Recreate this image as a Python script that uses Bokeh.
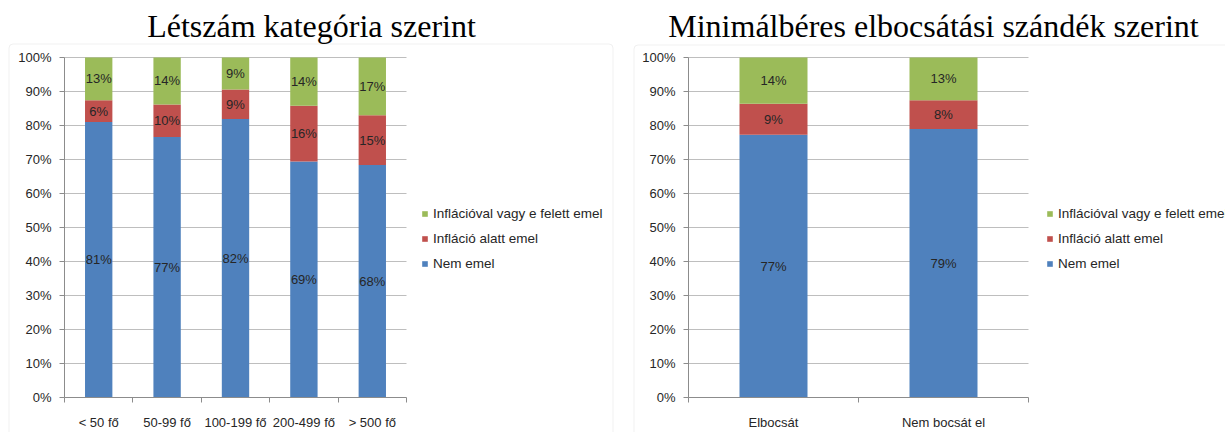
from bokeh.plotting import figure
from bokeh.models import (ColumnDataSource, Range1d, FixedTicker, PrintfTickFormatter,
                          Legend, LegendItem, Label, BoxAnnotation)
from bokeh.layouts import row
from bokeh.core.properties import value
from bokeh.embed import file_html
from bokeh.resources import INLINE

# ---------------- data ----------------
title_a = "Létszám kategória szerint"
cats_a = ["< 50 fő", "50-99 fő", "100-199 fő", "200-499 fő", "> 500 fő"]
nem_a = [81.0, 76.6, 81.9, 69.4, 68.4]
alatt_a = [6.4, 9.6, 8.7, 16.4, 14.6]
felett_a = [12.6, 13.8, 9.4, 14.2, 17.0]

title_b = "Minimálbéres elbocsátási szándék szerint"
cats_b = ["Elbocsát", "Nem bocsát el"]
nem_b = [77.3, 79.0]
alatt_b = [9.1, 8.4]
felett_b = [13.6, 12.6]

series_names = ["Nem emel", "Infláció alatt emel", "Inflációval vagy e felett emel"]
series_colors = ["#4F81BD", "#C0504D", "#9BBB59"]
y_ticks = list(range(0, 101, 10))

FONT = "Liberation Sans"
FS = "13px"
TXT = "#262626"
AXC = "#8C8C8C"
H = 432
PLOT_TOP, PLOT_BOTTOM = 57, 397   # pixel rows of 100% and 0%


def make_chart(title, cats, nem, alatt, felett, width, plot_left, plot_right,
               legend_x, title_x, box):
    n = len(cats)
    xs = [i + 0.5 for i in range(n)]
    kx = (plot_right - plot_left) / n
    ky = (PLOT_BOTTOM - PLOT_TOP) / 100.0
    x0 = -plot_left / kx
    y0 = -(H - PLOT_BOTTOM) / ky
    p = figure(width=width, height=H,
               x_range=Range1d(x0, x0 + width / kx),
               y_range=Range1d(y0, y0 + H / ky),
               output_backend="svg", toolbar_location=None, title=None,
               min_border=0)
    p.outline_line_color = None
    p.background_fill_color = "white"
    p.border_fill_color = "white"
    p.grid.visible = False

    # horizontal gridlines
    gy = y_ticks[1:]
    p.segment(x0=[0] * len(gy), x1=[n] * len(gy), y0=gy, y1=gy,
              line_color="#BEBEBE", line_width=1)

    src = ColumnDataSource(dict(x=xs, nem=nem, alatt=alatt, felett=felett))
    rs = p.vbar_stack(["nem", "alatt", "felett"], x="x", width=0.4, source=src,
                      fill_color=series_colors, line_color=None)

    # data labels
    lx, ly, lt = [], [], []
    for i in range(n):
        base = 0.0
        for vals in (nem, alatt, felett):
            v = vals[i]
            lx.append(xs[i])
            ly.append(base + v / 2)
            lt.append(f"{v:.0f}%")
            base += v
    p.text(x=lx, y=ly, text=lt, text_align="center", text_baseline="middle",
           text_font=value(FONT), text_font_size=FS, text_color=TXT)

    # y axis
    yax = p.yaxis[0]
    yax.fixed_location = 0
    yax.bounds = (0, 100)
    yax.ticker = FixedTicker(ticks=y_ticks)
    yax.formatter = PrintfTickFormatter(format="%d%%")
    yax.axis_line_color = AXC
    yax.major_tick_line_color = AXC
    yax.major_tick_out = 5
    yax.major_tick_in = 0
    yax.minor_tick_line_color = None
    yax.major_label_standoff = 8
    yax.major_label_text_font = FONT
    yax.major_label_text_font_size = FS
    yax.major_label_text_color = TXT

    # x axis
    xax = p.xaxis[0]
    xax.fixed_location = 0
    xax.bounds = (0, n)
    xax.ticker = FixedTicker(ticks=xs, minor_ticks=list(range(n + 1)))
    xax.major_label_overrides = {x: c for x, c in zip(xs, cats)}
    xax.axis_line_color = AXC
    xax.major_tick_out = 0
    xax.major_tick_in = 0
    xax.minor_tick_line_color = AXC
    xax.minor_tick_out = 5
    xax.minor_tick_in = 0
    xax.major_label_standoff = 12
    xax.major_label_text_font = FONT
    xax.major_label_text_font_size = FS
    xax.major_label_text_color = TXT

    # legend
    items = [LegendItem(label=series_names[k], renderers=[rs[k]]) for k in (2, 1, 0)]
    leg = Legend(items=items, location=(legend_x, H - 271), margin=0, padding=0,
                 border_line_color=None, background_fill_alpha=0,
                 glyph_width=7, glyph_height=7, label_height=14, label_standoff=5,
                 spacing=10, label_text_font=FONT, label_text_font_size="13.5px",
                 label_text_color=TXT)
    p.add_layout(leg)

    # chart frame
    p.add_layout(BoxAnnotation(left=box[0], right=box[1], top=H - box[2], bottom=-20,
                               left_units="screen", right_units="screen",
                               top_units="screen", bottom_units="screen",
                               fill_alpha=0, line_color="#CCCCCC", line_width=1,
                               border_radius=4))

    # title
    p.add_layout(Label(x=title_x, y=H - 25, x_units="screen", y_units="screen", text=title,
                       text_font="Liberation Serif", text_font_size="32px",
                       text_align="center", text_baseline="alphabetic",
                       text_color="black"))
    return p


pa = make_chart(title_a, cats_a, nem_a, alatt_a, felett_a, width=623,
                plot_left=64, plot_right=406, legend_x=421, title_x=311,
                box=(8.5, 612.5, 43.5))
pb = make_chart(title_b, cats_b, nem_b, alatt_b, felett_b, width=602,
                plot_left=65, plot_right=405, legend_x=423, title_x=310,
                box=(10.5, 700, 44.5))

layout = row(pa, pb)
open("out.html", "w").write(file_html(layout, INLINE))
